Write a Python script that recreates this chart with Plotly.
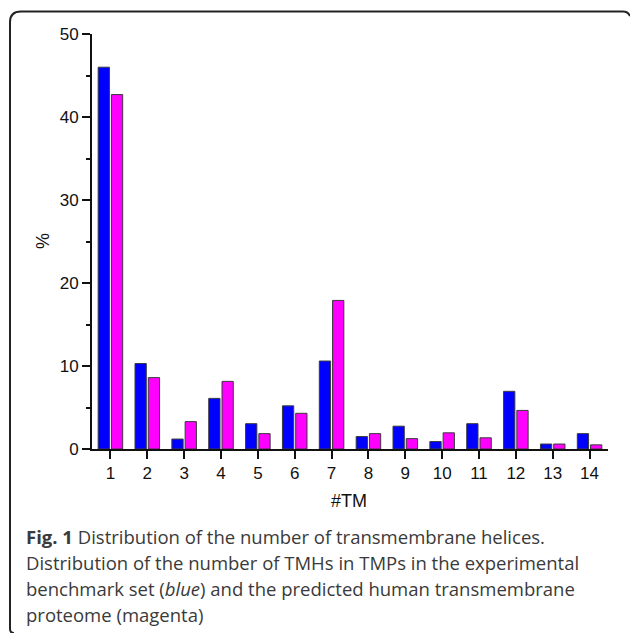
import plotly.graph_objects as go

# Share (%) of transmembrane proteins by number of TM helices
tm_counts = list(range(1, 15))
benchmark_pct = [46.0, 10.3, 1.2, 6.1, 3.05, 5.2, 10.6, 1.5, 2.75, 0.9, 3.05, 6.95, 0.6, 1.85]
proteome_pct = [42.7, 8.6, 3.3, 8.15, 1.85, 4.3, 17.9, 1.85, 1.25, 1.95, 1.35, 4.65, 0.6, 0.5]

y_ticks = [0, 10, 20, 30, 40, 50]

caption_lines = [
    "<b>Fig. 1</b> Distribution of the number of transmembrane helices.",
    "Distribution of the number of TMHs in TMPs in the experimental",
    "benchmark set (<i>blue</i>) and the predicted human transmembrane",
    "proteome (magenta)",
]

W, H = 630, 633
ML, MR, MT, MB = 92, 22, 34, 184
PW, PH = W - ML - MR, H - MT - MB


def px(x):
    return (x - ML) / PW


def py(y):
    return 1 - (y - MT) / PH


fig = go.Figure()
fig.add_trace(go.Bar(
    x=tm_counts, y=benchmark_pct, name="benchmark",
    marker=dict(color="#0000ff", line=dict(color="#3a3a3a", width=1)),
))
fig.add_trace(go.Bar(
    x=tm_counts, y=proteome_pct, name="proteome",
    marker=dict(color="#ff00ff", line=dict(color="#3a3a3a", width=1)),
))

sans = "Liberation Sans, Arial, sans-serif"
axis_font = dict(family=sans, size=17, color="#111111")

fig.update_layout(
    width=W, height=H,
    margin=dict(l=ML, r=MR, t=MT, b=MB, pad=0),
    paper_bgcolor="white", plot_bgcolor="white",
    barmode="group", bargap=0.28, bargroupgap=0.15,
    showlegend=False,
    font=axis_font,
)

fig.update_xaxes(
    range=[0.5, 14.5], tickmode="array", tickvals=tm_counts,
    ticktext=[str(t) for t in tm_counts],
    showgrid=False, zeroline=False,
    showline=True, linecolor="#111111", linewidth=2,
    ticks="outside", ticklen=8, tickwidth=2, tickcolor="#111111",
    tickfont=axis_font,
)
fig.update_yaxes(
    range=[0, 50], tickmode="array", tickvals=y_ticks,
    showgrid=False, zeroline=False,
    showline=True, linecolor="#111111", linewidth=2,
    ticks="outside", ticklen=8, tickwidth=2, tickcolor="#111111",
    tickfont=axis_font,
    minor=dict(dtick=5, tick0=0, ticks="outside", ticklen=4, tickwidth=2, tickcolor="#111111", showgrid=False),
)

# Axis titles
fig.add_annotation(text="#TM", xref="paper", yref="paper", x=px(349), y=py(501),
                   xanchor="center", yanchor="middle", showarrow=False,
                   font=dict(family=sans, size=18, color="#111111"))
fig.add_annotation(text="%", xref="paper", yref="paper", x=px(43), y=py(241),
                   xanchor="center", yanchor="middle", showarrow=False, textangle=-90,
                   font=dict(family=sans, size=18, color="#111111"))

# Rounded bracket frame around figure and caption
frame = (
    f"M {px(10)},{py(629)} Q {px(10)},{py(633)} {px(14)},{py(633)} "
    f"M {px(10)},{py(629)} L {px(10)},{py(22)} "
    f"Q {px(10)},{py(11.5)} {px(21)},{py(11.5)} "
    f"L {px(623)},{py(11.5)} Q {px(628)},{py(11.5)} {px(630)},{py(16)}"
)
fig.add_shape(type="path", path=frame, xref="paper", yref="paper",
              line=dict(color="#222222", width=2))

caption_y = [536, 562, 588, 614]
for text, yy in zip(caption_lines, caption_y):
    fig.add_annotation(
        text=text, xref="paper", yref="paper", x=px(24), y=py(yy),
        xanchor="left", yanchor="middle", showarrow=False,
        font=dict(family="Open Sans, sans-serif", size=18.5, color="#3a3a3a"),
    )

fig.write_html("out.html")
